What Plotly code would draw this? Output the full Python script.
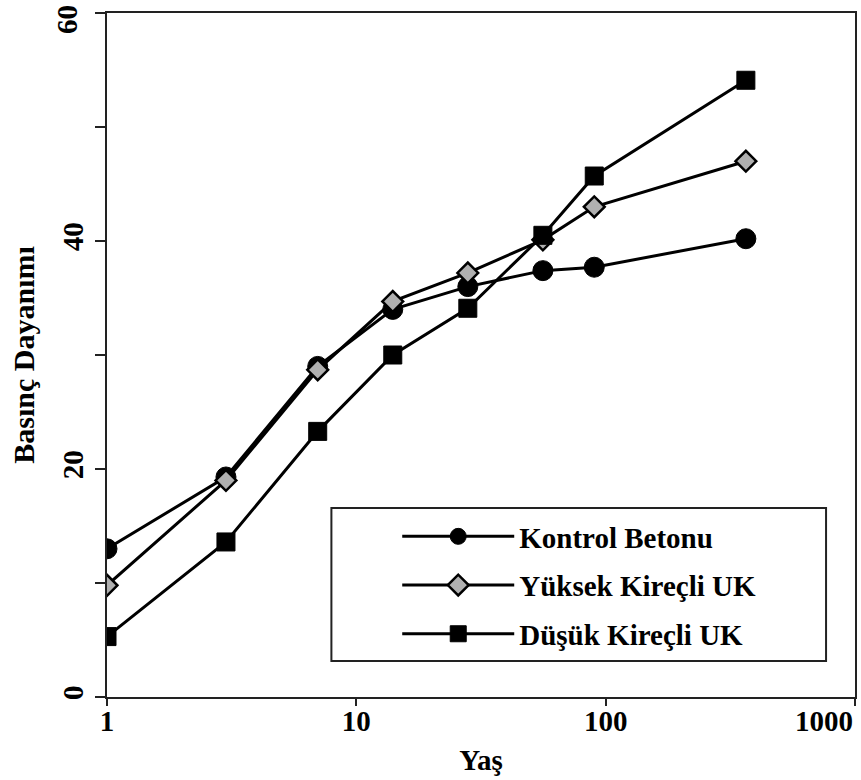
import math
import plotly.graph_objects as go

# Compressive strength (MPa) versus age (days)
days = [1, 3, 7, 14, 28, 56, 90, 365]
kontrol = [13.0, 19.3, 29.0, 34.0, 36.0, 37.4, 37.7, 40.2]
yuksek = [9.8, 19.0, 28.7, 34.7, 37.2, 40.1, 43.0, 47.0]
dusuk = [5.3, 13.6, 23.3, 30.0, 34.1, 40.5, 45.7, 54.1]
series_names = ["Kontrol Betonu", "Yüksek Kireçli UK", "Düşük Kireçli UK"]

x_tick_vals = [1, 10, 100, 1000]
x_tick_text = ["1", "10", "100", "1000"]
y_tick_vals = [0, 10, 20, 30, 40, 50, 60]
y_tick_text = ["0", "", "20", "", "40", "", "60"]

FONT = "Liberation Serif"
AXIS = "#222222"
TICK_FONT = dict(family=FONT, size=29, color="black", weight="bold")

marker_styles = [
    dict(symbol="circle", size=20, color="black", line=dict(color="black", width=1)),
    dict(symbol="diamond", size=16, color="#b0b0b0", line=dict(color="black", width=2.5)),
    dict(symbol="square", size=18, color="black", line=dict(color="black", width=1)),
]

fig = go.Figure()
for i, (name, vals, mk) in enumerate(zip(series_names, [kontrol, yuksek, dusuk], marker_styles)):
    fig.add_trace(go.Scatter(
        x=days, y=vals, name=name, mode="lines+markers",
        line=dict(color="black", width=3),
        marker=mk, legendgroup=f"g{i}",
    ))

# frame drawn around the legend entries
fig.add_shape(type="rect", xref="paper", yref="paper",
              x0=0.30, x1=0.9613, y0=0.0526, y1=0.2763,
              line=dict(color=AXIS, width=2), fillcolor="white", layer="below")

# end labels placed inside the figure edges (the last x label right-aligned to its tick,
# the top y label nudged below the frame)
x_labels_inner = [t if v != x_tick_vals[-1] else "" for v, t in zip(x_tick_vals, x_tick_text)]
y_labels_inner = [t if v != y_tick_vals[-1] else "" for v, t in zip(y_tick_vals, y_tick_text)]
fig.add_annotation(x=math.log10(x_tick_vals[-1]), xref="x", y=0, yref="paper",
                   text=x_tick_text[-1], showarrow=False, xanchor="right", yanchor="top",
                   yshift=-6, font=TICK_FONT)
fig.add_annotation(x=0, xref="paper", y=y_tick_vals[-1], yref="y",
                   text=y_tick_text[-1], showarrow=False, textangle=-90,
                   xanchor="center", yanchor="middle", xshift=-40, yshift=-7,
                   font=TICK_FONT)

fig.update_layout(
    width=861, height=780,
    margin=dict(l=107, r=4, t=13, b=83),
    paper_bgcolor="white", plot_bgcolor="white",
    font=dict(family=FONT, size=29, color="black", weight="bold"),
    showlegend=True,
    legend=dict(
        x=(398 - 107) / 750, y=(697 - 511) / 684, xanchor="left", yanchor="top",
        bgcolor="rgba(0,0,0,0)", borderwidth=0,
        font=dict(family=FONT, size=29, color="black", weight="bold"),
        itemwidth=112, tracegroupgap=8,
    ),
    xaxis=dict(
        type="log", range=[0, 3],
        tickmode="array", tickvals=x_tick_vals, ticktext=x_labels_inner,
        ticks="outside", ticklen=7, tickwidth=2, tickcolor=AXIS,
        ticklabelstandoff=-10,
        showline=True, linecolor=AXIS, linewidth=2, mirror=True,
        showgrid=False, zeroline=False,
        tickfont=TICK_FONT,
        title=dict(text="Yaş", standoff=14,
                   font=dict(family=FONT, size=29, weight="bold")),
    ),
    yaxis=dict(
        range=[0, 60],
        tickmode="array", tickvals=y_tick_vals, ticktext=y_labels_inner,
        tickangle=-90,
        ticks="outside", ticklen=10, tickwidth=2, tickcolor=AXIS,
        showline=True, linecolor=AXIS, linewidth=2, mirror=True,
        showgrid=False, zeroline=False,
        tickfont=TICK_FONT,
        title=dict(text="Basınç Dayanımı", standoff=14,
                   font=dict(family=FONT, size=30, weight="bold")),
    ),
)

fig.write_html("out.html")
